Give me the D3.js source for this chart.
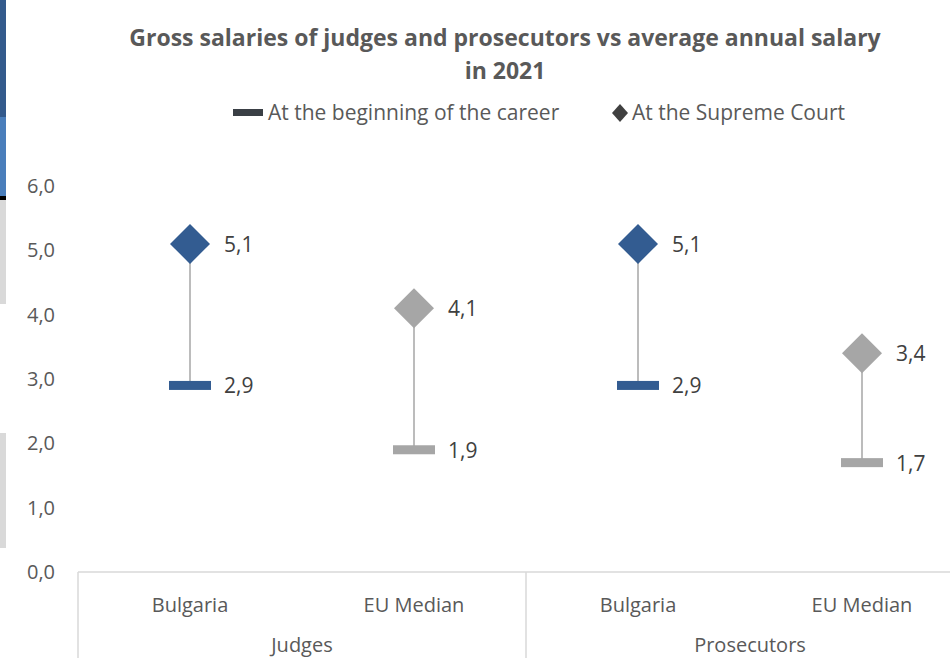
<!DOCTYPE html>
<html>
<head>
<meta charset="utf-8">
<script src="https://cdn.jsdelivr.net/npm/d3@7"></script>
<style>
  body { margin: 0; background: #fff; }
  svg { display: block; font-family: "Open Sans", "Noto Sans", sans-serif; }
</style>
</head>
<body>
<svg id="chart"></svg>
<script>
var categories = ['Bulgaria', 'EU Median', 'Bulgaria', 'EU Median'];
var groups = ['Judges', 'Prosecutors'];
var beginning = [2.9, 1.9, 2.9, 1.7];
var supreme = [5.1, 4.1, 5.1, 3.4];
var yTicks = [0, 1, 2, 3, 4, 5, 6];
var pointColors = ['#335c91', '#a6a6a6', '#335c91', '#a6a6a6'];

var width = 950, height = 658;
var fmt = function (v) { return d3.format('.1f')(v).replace('.', ','); };

var svg = d3.select('#chart')
  .attr('width', width)
  .attr('height', height);

// bits of the neighbouring slide visible at the left edge
var edge = [
  { y0: 0, y1: 117, c: '#335a8c' },
  { y0: 117, y1: 196, c: '#4a7ebb' },
  { y0: 196, y1: 200, c: '#000' },
  { y0: 200, y1: 304, c: '#d9d9d9' },
  { y0: 433, y1: 548, c: '#d9d9d9' }
];
svg.selectAll('.edge')
  .data(edge)
  .enter().append('rect')
  .attr('x', 0)
  .attr('width', 6)
  .attr('y', function (d) { return d.y0; })
  .attr('height', function (d) { return d.y1 - d.y0; })
  .attr('fill', function (d) { return d.c; });

var x = d3.scaleBand()
  .domain(d3.range(categories.length))
  .range([78, 974]);

var y = d3.scaleLinear()
  .domain([0, 6])
  .range([572, 186]);

// title
svg.append('text')
  .attr('x', 505).attr('y', 46)
  .attr('text-anchor', 'middle')
  .attr('font-size', 23).attr('font-weight', 'bold')
  .attr('fill', '#595959')
  .text('Gross salaries of judges and prosecutors vs average annual salary');
svg.append('text')
  .attr('x', 505).attr('y', 79)
  .attr('text-anchor', 'middle')
  .attr('font-size', 23).attr('font-weight', 'bold')
  .attr('fill', '#595959')
  .text('in 2021');

// legend
var leg = svg.append('g');
leg.append('rect')
  .attr('x', 233).attr('y', 109).attr('width', 30).attr('height', 7)
  .attr('fill', '#3a3f45');
leg.append('text')
  .attr('x', 268).attr('y', 120)
  .attr('font-size', 21).attr('fill', '#595959')
  .text('At the beginning of the career');
leg.append('path')
  .attr('d', 'M620,104L628,113L620,122L612,113Z')
  .attr('fill', '#404040');
leg.append('text')
  .attr('x', 632).attr('y', 120)
  .attr('font-size', 21).attr('fill', '#595959')
  .text('At the Supreme Court');

// y axis labels
svg.selectAll('.ytick')
  .data(yTicks)
  .enter().append('text')
  .attr('class', 'ytick')
  .attr('x', 55)
  .attr('y', function (d) { return y(d) + 7; })
  .attr('text-anchor', 'end')
  .attr('font-size', 20).attr('fill', '#595959')
  .text(fmt);

// category axis
var axisColor = '#d9d9d9';
svg.append('line')
  .attr('x1', x(0)).attr('x2', 974)
  .attr('y1', y(0)).attr('y2', y(0))
  .attr('stroke', axisColor).attr('stroke-width', 1.5);
var sep = [0, 2];
svg.selectAll('.sep')
  .data(sep)
  .enter().append('line')
  .attr('x1', function (d) { return x(d); })
  .attr('x2', function (d) { return x(d); })
  .attr('y1', y(0)).attr('y2', height)
  .attr('stroke', axisColor).attr('stroke-width', 1.5);

svg.selectAll('.cat')
  .data(categories)
  .enter().append('text')
  .attr('x', function (d, i) { return x(i) + x.bandwidth() / 2; })
  .attr('y', 612)
  .attr('text-anchor', 'middle')
  .attr('font-size', 20).attr('fill', '#595959')
  .text(function (d) { return d; });

svg.selectAll('.grp')
  .data(groups)
  .enter().append('text')
  .attr('x', function (d, i) { return x(i * 2) + x.bandwidth(); })
  .attr('y', 652)
  .attr('text-anchor', 'middle')
  .attr('font-size', 20).attr('fill', '#595959')
  .text(function (d) { return d; });

// stems
var cx = function (i) { return x(i) + x.bandwidth() / 2; };
svg.selectAll('.stem')
  .data(categories)
  .enter().append('line')
  .attr('x1', function (d, i) { return cx(i); })
  .attr('x2', function (d, i) { return cx(i); })
  .attr('y1', function (d, i) { return y(supreme[i]); })
  .attr('y2', function (d, i) { return y(beginning[i]); })
  .attr('stroke', '#a6a6a6').attr('stroke-width', 1.5);

// beginning dashes
svg.selectAll('.dash')
  .data(beginning)
  .enter().append('rect')
  .attr('x', function (d, i) { return cx(i) - 21; })
  .attr('y', function (d) { return y(d) - 4.5; })
  .attr('width', 42).attr('height', 9)
  .attr('fill', function (d, i) { return pointColors[i]; });

// supreme diamonds
svg.selectAll('.dia')
  .data(supreme)
  .enter().append('path')
  .attr('d', function (d, i) {
    var px = cx(i), py = y(d), r = 20;
    return 'M' + px + ',' + (py - r) + 'L' + (px + r) + ',' + py +
      'L' + px + ',' + (py + r) + 'L' + (px - r) + ',' + py + 'Z';
  })
  .attr('fill', function (d, i) { return pointColors[i]; });

// data labels
var labels = beginning.map(function (v, i) { return { v: v, i: i }; })
  .concat(supreme.map(function (v, i) { return { v: v, i: i }; }));
svg.selectAll('.lbl')
  .data(labels)
  .enter().append('text')
  .attr('x', function (d) { return cx(d.i) + 34; })
  .attr('y', function (d) { return y(d.v) + 8; })
  .attr('font-size', 21).attr('fill', '#404040')
  .text(function (d) { return fmt(d.v); });
</script>
</body>
</html>
